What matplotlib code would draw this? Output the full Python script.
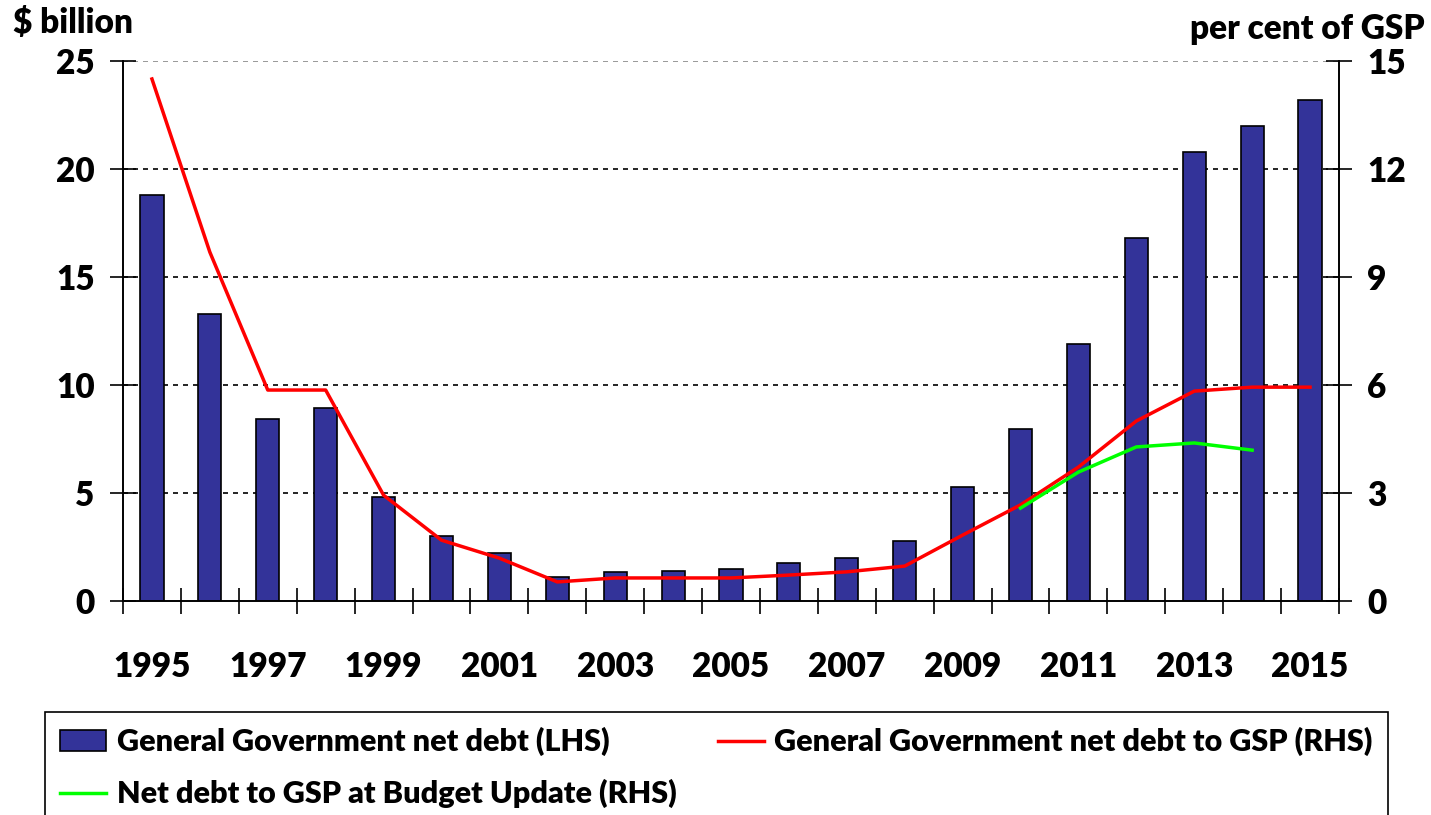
import matplotlib
matplotlib.use("Agg")
import matplotlib.pyplot as plt
from matplotlib.ticker import FixedLocator
import numpy as np

years = list(range(1995, 2016))
net_debt = [18.8, 13.3, 8.43, 8.94, 4.81, 3.0, 2.2, 1.1, 1.34, 1.39, 1.48, 1.76,
            1.99, 2.78, 5.28, 7.96, 11.9, 16.8, 20.8, 22.0, 23.2]
debt_gsp = [14.5, 9.69, 5.86, 5.86, 2.94, 1.69, 1.19, 0.53, 0.64, 0.64, 0.64, 0.72,
            0.81, 0.97, 1.83, 2.67, 3.72, 5.0, 5.83, 5.94, 5.94]
update_years = [2010, 2011, 2012, 2013, 2014]
update_gsp = [2.58, 3.58, 4.28, 4.39, 4.19]
left_ticks = [0, 5, 10, 15, 20, 25]
right_ticks = [0, 3, 6, 9, 12, 15]

plt.rcParams['font.family'] = ['Lato', 'DejaVu Sans']
plt.rcParams['font.weight'] = 'heavy'

fig = plt.figure(figsize=(14.31, 8.15), dpi=100)
ax = fig.add_axes([123/1431, 1-601/815, (1339-123)/1431, (601-61)/815])
ax2 = ax.twinx()

bars = ax.bar(years, net_debt, width=0.4, color='#333399', edgecolor='black', linewidth=1.2,
              label='General Government net debt (LHS)', zorder=3)
ax.set_xlim(1994.5, 2015.5)
ax.set_ylim(0, 25)
ax.set_yticks(left_ticks)
for v in left_ticks[1:-1]:
    ax.axhline(v, color='black', linestyle=(0, (3, 3)), linewidth=1.2, zorder=1)
ax.axhline(25, color='#888888', linestyle=(0, (3, 3)), linewidth=1.2, zorder=1)

ax.set_xticks(years)
ax.set_xticklabels([str(y) if (y - 1995) % 2 == 0 else '' for y in years])
ax.xaxis.set_minor_locator(FixedLocator([y + 0.5 for y in range(1994, 2016)]))
ax.tick_params(axis='x', which='major', length=0, pad=36, labelsize=24)
ax.tick_params(axis='x', which='minor', direction='inout', length=19, width=1.2)
ax.tick_params(axis='y', direction='inout', length=19, width=1.2, labelsize=24, pad=11)

ln_red, = ax2.plot(years, debt_gsp, color='#FF0000', linewidth=2.5,
                   label='General Government net debt to GSP (RHS)', zorder=4)
ln_green, = ax2.plot(update_years, update_gsp, color='#00FF00', linewidth=2.5,
                     label='Net debt to GSP at Budget Update (RHS)', zorder=4)
ax2.set_ylim(0, 15)
ax2.set_yticks(right_ticks)
ax2.tick_params(axis='y', direction='inout', length=19, width=1.2, labelsize=24, pad=11)

for a in (ax, ax2):
    a.spines['top'].set_visible(False)
    for s in ('left', 'right', 'bottom'):
        a.spines[s].set_linewidth(1.2)

fig.text(13/1431, 1-7/815, r'\$ billion', ha='left', va='top', fontsize=24, fontweight='heavy')
fig.text(1425/1431, 1-13/815, 'per cent of GSP', ha='right', va='top', fontsize=24, fontweight='heavy')

leg = fig.legend(handles=[bars, ln_green, ln_red],
                 labels=['General Government net debt (LHS)', 'Net debt to GSP at Budget Update (RHS)',
                         'General Government net debt to GSP (RHS)'],
                 loc='upper left', bbox_to_anchor=(45/1431, -0.2, (1388-45)/1431, 1-712/815+0.2),
                 mode='expand', ncol=2, fontsize=22, frameon=True, fancybox=False,
                 edgecolor='black', framealpha=1, borderpad=0.5, borderaxespad=0,
                 handlelength=1.5, handletextpad=0.35, labelspacing=0.74, handleheight=0.65)
leg.get_frame().set_linewidth(1.2)

fig.savefig('out.png', dpi=100)
